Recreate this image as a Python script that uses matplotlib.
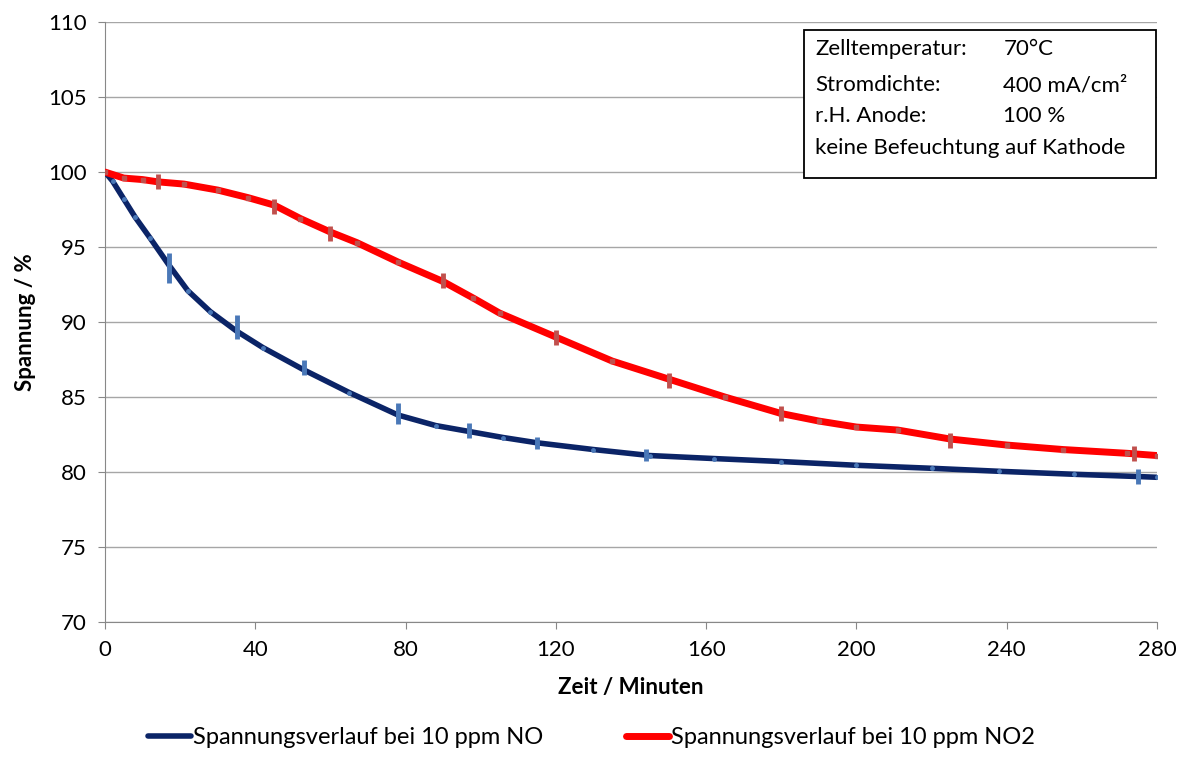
import numpy as np
import matplotlib.pyplot as plt
from matplotlib.patches import Rectangle

plt.rcParams['font.family'] = ['Lato', 'DejaVu Sans']

# Spannungsverlauf NO
t_no = [0, 2, 5, 8, 12, 17, 22, 28, 35, 42, 53, 65, 78, 88, 97, 106, 115, 130, 145, 162, 180, 200, 220, 238, 258, 275, 280]
u_no = [100, 99.4, 98.2, 97.0, 95.6, 93.8, 92.1, 90.7, 89.4, 88.3, 86.8, 85.3, 83.8, 83.1, 82.7, 82.3, 81.95, 81.5, 81.1, 80.9, 80.7, 80.45, 80.25, 80.05, 79.85, 79.7, 79.65]
# Spannungsverlauf NO2
t_no2 = [0, 5, 10, 14, 21, 30, 38, 45, 52, 60, 67, 78, 90, 98, 105, 120, 135, 150, 165, 180, 190, 200, 211, 225, 240, 255, 272, 280]
u_no2 = [100, 99.6, 99.5, 99.35, 99.2, 98.8, 98.3, 97.8, 96.9, 96.0, 95.3, 94.0, 92.7, 91.6, 90.6, 89.0, 87.4, 86.2, 85.0, 83.9, 83.4, 83.0, 82.8, 82.2, 81.8, 81.5, 81.25, 81.1]

# Messpunkte mit Fehlerbalken
eb_t_no = [17, 35, 53, 78, 97, 115, 144, 275]
eb_u_no = [93.6, 89.7, 86.95, 83.9, 82.8, 81.95, 81.15, 79.7]
eb_e_no = [1.0, 0.8, 0.5, 0.7, 0.5, 0.4, 0.4, 0.5]
eb_t_no2 = [14, 45, 60, 90, 120, 150, 180, 225, 274]
eb_u_no2 = [99.35, 97.7, 95.9, 92.8, 89.0, 86.1, 83.9, 82.1, 81.25]
eb_e_no2 = [0.5, 0.5, 0.5, 0.5, 0.5, 0.5, 0.5, 0.5, 0.5]

# Versuchsbedingungen
cond_labels = ['Zelltemperatur:', 'Stromdichte:', 'r.H. Anode:']
cond_values = ['70°C', '400 mA/cm²', '100 %']
cond_note = 'keine Befeuchtung auf Kathode'

navy = '#0b2467'
red = '#ff0000'

fig = plt.figure(figsize=(11.83, 7.62), dpi=100)
ax = fig.add_axes([0.0888, 0.1837, 0.8892, 0.7873])

ax.plot(t_no, u_no, color=navy, lw=4, solid_capstyle='round', zorder=3,
        label='Spannungsverlauf bei 10 ppm NO')
ax.plot(t_no2, u_no2, color=red, lw=5, solid_capstyle='round', zorder=3,
        label='Spannungsverlauf bei 10 ppm NO2')
ax.plot(t_no, u_no, ls='none', marker='o', ms=2.5, color='#4a78b8', zorder=4)
ax.plot(t_no2, u_no2, ls='none', marker='s', ms=3, color='#c0504d', zorder=4)
ax.errorbar(eb_t_no, eb_u_no, yerr=eb_e_no, fmt='none', ecolor='#4a78b8', elinewidth=3.5, capsize=0, zorder=5)
ax.errorbar(eb_t_no2, eb_u_no2, yerr=eb_e_no2, fmt='none', ecolor='#c0504d', elinewidth=3.5, capsize=0, zorder=5)

ax.set_xlim(0, 280)
ax.set_ylim(70, 110)
ax.set_xticks(np.arange(0, 281, 40))
ax.set_yticks(np.arange(70, 111, 5))
ax.tick_params(labelsize=16, length=5, color='#888888', pad=8)
ax.yaxis.grid(True, color='#a6a6a6', lw=1)
ax.set_axisbelow(True)
for s in ['top', 'right']:
    ax.spines[s].set_visible(False)
for s in ['left', 'bottom']:
    ax.spines[s].set_color('#888888')

ax.set_xlabel('Zeit / Minuten', fontsize=16, fontweight='bold', labelpad=12)
ax.set_ylabel('Spannung / %', fontsize=16, fontweight='bold', labelpad=9)

# Kasten mit Versuchsbedingungen
ax.add_patch(Rectangle((0.6645, 0.74), 0.335, 0.247, transform=ax.transAxes,
                       fc='white', ec='black', lw=1.3, zorder=6, clip_on=False))
row_y = [0.955, 0.895, 0.843, 0.79]
for lab, val, y in zip(cond_labels, cond_values, row_y):
    ax.text(0.675, y, lab, transform=ax.transAxes, fontsize=16, va='center', zorder=7)
    ax.text(0.854, y, val, transform=ax.transAxes, fontsize=16, va='center', zorder=7)
ax.text(0.675, row_y[3], cond_note, transform=ax.transAxes, fontsize=16, va='center', zorder=7)

fig.legend(loc='lower center', bbox_to_anchor=(0.5, -0.01), ncol=2, frameon=False,
           fontsize=17, handlelength=1.8, handletextpad=0.1, columnspacing=3.5)

fig.savefig('out.png', dpi=100)
